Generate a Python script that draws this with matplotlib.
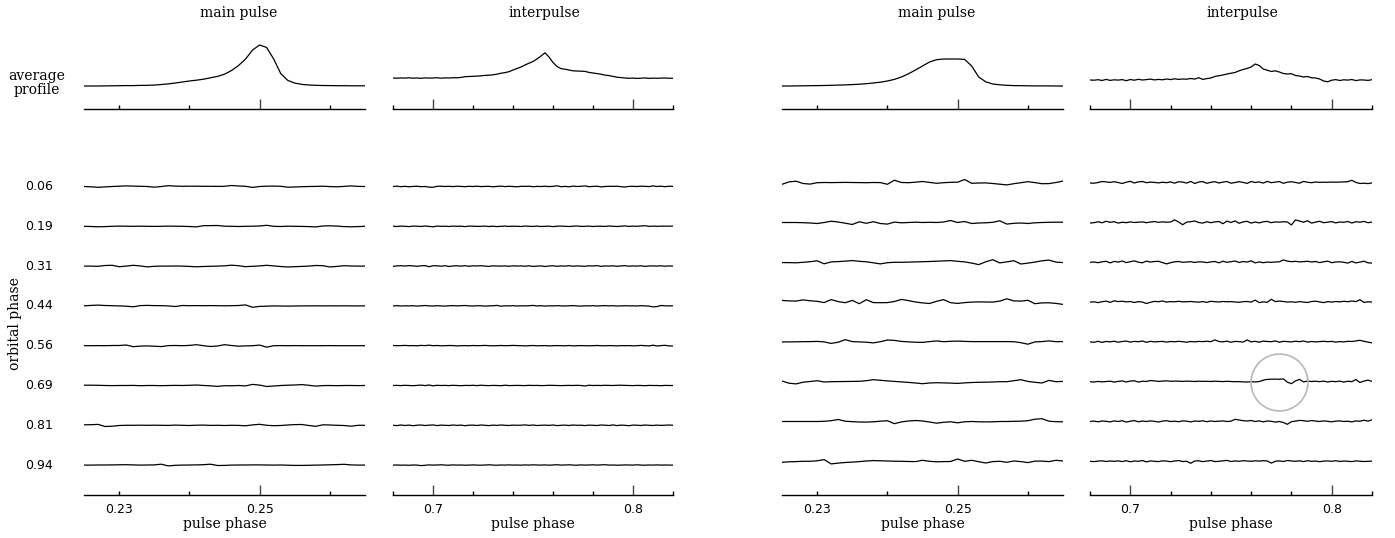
import numpy as np
import matplotlib.pyplot as plt
from matplotlib.transforms import blended_transform_factory

plt.rcParams['font.family'] = 'DejaVu Sans'
SERIF = 'DejaVu Serif'

# orbital phase of each residual row (top to bottom)
orbital_phase = ['0.06', '0.19', '0.31', '0.44', '0.56', '0.69', '0.81', '0.94']

# pulse phase range of the panels
main_range = (0.225, 0.265)   # bins of 0.001
inter_range = (0.68, 0.82)    # bins of 0.002

# average profiles (arbitrary intensity units)
avg_main_left = [0, 0, 0, 0.1, 0.2, 0.3, 0.4, 0.4, 0.6, 0.7, 0.9, 1.5, 2.1, 3.0, 4.0, 5.0,
                 5.8, 6.8, 8.2, 9.6, 11.8, 15.5, 20.5, 27.0, 36.0, 41.0, 38.5, 27.0, 12.5, 5.6,
                 2.9, 1.6, 1.0, 0.7, 0.5, 0.4, 0.3, 0.3, 0.2, 0.2, 0.2]
avg_main_right = [0, 0, 0.1, 0.2, 0.3, 0.4, 0.5, 0.7, 0.9, 1.1, 1.4, 1.8, 2.3, 3.0, 3.8, 5.0,
                  6.6, 9.0, 12.2, 16.0, 20.0, 24.0, 26.3, 27.0, 27.0, 27.0, 26.6, 20.0, 9.0, 4.2,
                  2.0, 1.2, 0.7, 0.4, 0.3, 0.2, 0.1, 0.1, 0.1, 0, 0]
avg_inter_left = [8.0, 7.8, 8.1, 7.9, 8.2, 7.8, 8.0, 7.7, 8.1, 7.9, 8.0, 8.3, 7.8, 8.1, 8.0,
                  8.3, 8.2, 8.6, 9.3, 9.5, 9.7, 9.9, 10.2, 10.6, 10.8, 11.2, 11.8, 12.8, 13.4,
                  14.3, 16.0, 17.5, 19.0, 21.0, 22.8, 24.5, 27.0, 30.0, 33.2, 29.0, 23.5, 19.5,
                  17.4, 16.8, 16.0, 15.2, 15.0, 14.8, 14.6, 13.6, 13.0, 12.4, 11.8, 10.9, 10.4,
                  9.6, 8.8, 8.4, 8.0, 7.7, 7.9, 7.6, 7.8, 8.1, 7.6, 7.9, 7.7, 7.9, 8.0, 7.7, 7.8]
avg_inter_right = [6.0, 5.8, 6.3, 5.5, 6.6, 5.6, 6.2, 5.9, 6.4, 5.3, 6.5, 5.8, 6.7, 6.0, 6.4,
                   6.9, 6.1, 6.6, 6.2, 7.0, 6.4, 7.2, 6.6, 7.0, 6.8, 7.5, 6.9, 8.3, 6.6, 7.4,
                   8.0, 9.5, 10.3, 11.0, 12.0, 12.8, 13.5, 15.2, 16.5, 17.6, 19.0, 22.0, 20.5,
                   17.0, 15.8, 14.5, 15.2, 14.0, 12.5, 12.0, 12.3, 10.5, 10.0, 9.0, 9.5, 8.2,
                   8.0, 7.0, 5.0, 4.2, 5.8, 6.4, 5.5, 6.2, 5.9, 6.5, 5.4, 6.1, 6.0, 5.6, 6.3]

# residuals after subtracting the average profile, one list per orbital phase
res_main_left = [
    [0, -0.3, -0.8, -0.4, 0, 0.3, 0.6, 0.4, 0.2, 0, -0.7, 0, 0.8, 0.4, 0.2, 0.3, 0.3, 0.2, 0.2, 0.1,
     0.2, 1.0, 0.5, 0.2, -0.9, 0, 0.3, 0.4, 0.2, -0.7, -0.5, -0.2, 0, 0.1, 0.3, -0.1, -0.3, 0.1, 0.6, 0.1, 0],
    [0, -0.2, -0.5, -0.3, 0, 0.2, 0.1, 0, 0.1, 0, -0.1, 0, 0.2, 0.1, 0, -0.2, -0.6, 0.6, 0.7, 0.8,
     0.1, 0, -0.2, 0, 0.1, 0.3, 1.0, 0, -0.2, 0.1, 0, -0.1, -0.3, -0.6, 0.3, 0.5, 0.2, -0.3, -0.5, -0.3, 0],
    [0, 0, -0.2, 0.6, 0.8, -0.6, 0, 0.8, 0.2, -0.8, -0.2, 0, 0, 0.1, 0, -0.3, -0.7, -0.4, -0.2, 0,
     0.3, 0.9, 0.4, -0.6, -0.2, 0.2, 0.8, 0.2, -0.4, -0.9, -0.6, -0.3, 0, 0.6, 0.4, -0.9, -0.3, 0.4, 0.1, 0, 0],
    [0, 0.5, 0.8, 0.4, 0.2, 0, -0.3, -0.9, 0.3, 0.5, 0.3, 0.2, 0, -0.6, 0.4, 0.2, 0.3, 0.2, 0.3, 0.2,
     0.1, 0.2, 0.4, 1.0, -1.4, -0.5, -0.3, 0, -0.1, -0.2, -0.1, 0, 0, 0.1, 0, 0.1, 0, 0.1, 0, 0, 0],
    [0, 0, 0.1, 0, 0.2, 0.2, 0.7, -1.0, -0.4, -0.2, -0.5, -0.9, 0.1, 0.2, 0, 0.3, 1.0, 0, -0.8, -0.3,
     1.0, 0.2, -0.5, -0.2, 0, 0.6, -1.5, 0, 0.1, 0, 0.1, 0, 0, 0, 0, 0.1, 0, 0, 0, 0, 0],
    [0.3, 0.3, 0.2, 0, -0.1, 0, 0, 0.1, -0.2, 0, 0, -0.2, 0, 0.1, 0, 0.2, 0.5, 0, -0.3, -0.9,
     -0.2, -0.3, 0, -0.4, 1.1, 0.4, -1.0, -0.5, 0, 0.3, 0.5, 0.9, 0.2, -0.6, -0.1, 0, -0.2, 0, 0, -0.1, 0],
    [0.5, 0.6, 0.9, -1.2, -0.9, -0.2, 0, 0, 0.1, 0, 0.1, 0, -0.1, 0.2, 0, -0.2, 0.1, 0.2, -0.1, 0,
     -0.2, 0, -0.1, -0.5, 0.4, 1.0, 0, -0.4, -0.2, 0.3, 0.7, 0.8, -0.2, -1.0, 0.5, 0.3, 0, -0.2, -0.9, 0, 0],
    [0, 0, 0.1, 0.1, 0.2, 0.3, 0.4, 0.2, 0, 0.1, 0.2, 0.9, -0.8, -0.2, 0, 0.1, 0.2, 0.4, 0.9, -0.4,
     -0.3, 0, 0.1, 0.1, 0.2, 0.2, 0.1, 0, 0.1, -0.1, -0.3, -0.3, -0.2, 0, 0.1, 0.3, 0.5, 0.8, 0.2, 0, 0],
]

res_main_right = [
    [-1.6, 0.8, 1.5, -0.8, -1.4, 0, 0.2, 0.1, 0.2, 0.3, 0.2, 0.1, 0, 0.2, 0.1, -1.6, 2.5, 0.2, 0, 0.5,
     1.2, 0.3, -0.6, 0, 0.4, 0.5, 3.2, -0.6, -0.3, -0.2, -0.8, -1.5, -2.2, -1.0, 0, 1.0, 0.1, -1.0, -0.9, 0.2, 1.6],
    [0, 0, 0, -0.2, -0.5, -1.0, 0, 1.3, 0.5, -0.7, -2.0, 0.7, -0.8, 0.8, -1.0, -1.6, 0.4, -0.3, 0, 0.3,
     0, 0.2, 0, 0.5, 2.0, 0, 1.0, -1.0, -0.5, -0.3, 0.2, 1.7, -1.6, -0.8, -0.5, -1.0, -0.3, 0, 0.2, 0.3, 0.3],
    [-0.3, -0.3, -0.5, 0, 0.6, 1.5, -1.5, 0.4, 0.7, 1.2, 1.7, 1.0, 0.5, -0.5, -1.6, -0.4, 0, 0, 0.2, 0.4,
     0.6, 0.8, 1.1, 1.4, 1.7, 1.0, 0.4, -0.8, -2.3, 0.5, 2.6, -0.6, 0.4, 1.6, -1.7, -0.8, 0.2, 1.5, 2.2, 0.2, -0.3],
    [1.7, 1.2, 1.0, 2.2, 1.3, 0.8, -0.5, 2.5, 0.5, -0.6, 1.7, -1.6, 2.4, -0.5, -0.6, -0.5, 0.6, 2.7, 1.5, 0.1,
     -0.8, -1.4, 0.8, 2.5, -0.6, -1.3, -0.5, 0, 0.2, 0.1, 0, 1.0, 3.3, 1.2, 1.0, 1.8, -1.6, -0.8, -0.7, -1.3, -2.3],
    [0, 0, 0.1, 0.2, 0.3, 0.5, 0, -1.5, -0.3, 2.2, 0.3, 0, -0.3, -1.0, 0.2, 1.9, 1.5, 0.5, 0, -0.3,
     -0.5, 0.3, 1.0, 0.2, 0.6, 0.8, 0.5, 0.3, 0.3, 0.3, 0.3, 0.3, 0.3, 0.2, -0.8, -2.3, 0, 0.3, 1.0, 0.2, 0.3],
    [0.7, -1.5, -2.2, -0.5, 0.2, 1.0, -0.3, 0, 0.1, 0.2, 0.3, 0.4, 1.0, 2.0, 1.4, 0.8, 0.3, -0.2, -0.7, -1.3,
     -2.0, -1.3, -1.0, -1.2, -1.4, -1.7, -1.2, -0.8, -0.6, -0.5, -0.3, 0, 0, 1.0, 2.0, 0.3, -0.6, -1.3, 1.3, 0, 0.3],
    [0, 0, 0, 0, 0, 0, 0.2, 0.8, 2.0, 0.3, -0.2, -0.5, -0.6, -0.3, 0.3, 0.8, -2.2, -0.4, 0.5, 1.0,
     0.5, -0.5, -1.7, -0.8, -0.3, -1.3, -0.3, 0, -0.3, -0.4, -0.3, 0, 0, 0.2, 0.3, 0.8, 2.3, 2.8, 0.3, -0.2, -0.3],
    [-1.0, -0.5, -0.3, 0, 0, 0.5, 1.7, -2.6, -1.8, -1.2, -0.8, -0.3, 0.3, 0.7, 0.5, 0.3, 0.1, 0, -0.2, -0.3,
     1.0, 0, -0.5, -0.3, -0.2, 2.3, 0, 1.0, -0.4, -1.7, -0.3, 0, -1.0, 0.3, -0.3, -1.3, 0.2, 0.2, -0.3, 1.0, 0.3],
]

res_inter_left = [
    [0.0, 0.3, -0.2, 0.2, -0.3, 0.1, 0.3, -0.2, 0.0, -0.6, -0.8, 0.2, 0.3, 0.0, 0.2, -0.1, 0.3, 0.1, -0.2, 0.2,
     0.0, 0.3, -0.1, 0.1, 0.2, -0.3, 0.1, 0.4, -0.1, 0.2, 0.0, -0.3, 0.2, 0.1, 0.3, -0.2, 0.1, 0.0, 0.3, -0.1,
     0.2, 0.7, -0.2, 0.1, -0.3, 0.4, 0.0, 0.2, 0.6, -0.2, 0.1, 0.3, -0.4, 0.0, 0.2, 0.1, 0.3, -0.2, -0.5, 0.1,
     0.2, 0.0, 0.3, 0.2, -0.1, 0.6, 0.0, 0.3, -0.2, 0.3, 0.1],
    [0.1, -0.2, 0.2, 0.0, -0.3, 0.2, 0.1, -0.2, 0.3, -0.1, -0.5, 0.2, 0.0, 0.1, -0.2, 0.2, 0.0, 0.1, -0.3, 0.2,
     0.1, -0.1, 0.0, 0.2, -0.2, 0.1, -0.3, 0.0, 0.2, -0.1, 0.1, 0.0, -0.2, 0.3, 0.0, -0.1, 0.2, -0.2, 0.0, 0.1,
     -0.3, 0.1, 0.2, 0.0, -0.2, 0.1, 0.3, -0.1, 0.0, 0.2, -0.2, 0.1, 0.0, -0.1, 0.3, 0.0, -0.2, 0.1, 0.4, -0.1,
     0.2, 0.0, 0.3, 0.6, -0.1, 0.2, 0.0, 0.1, 0.2, 0.1, 0.2],
    [-0.3, 0.2, 0.4, 0.1, 0.5, 0.2, -0.2, 0.3, 0.5, -0.6, 0.4, 0.3, -0.1, 0.4, -0.4, 0.2, 0.3, 0.0, 0.4, -0.2,
     0.3, 0.1, 0.4, 0.0, -0.3, 0.3, 0.1, 0.0, 0.2, -0.2, 0.3, 0.0, 0.2, -0.1, 0.3, -0.3, 0.0, 0.2, -0.4, 0.1,
     0.3, -0.2, 0.2, 0.0, 0.4, -0.1, 0.2, 0.0, -0.2, 0.3, 0.1, 0.5, -0.3, 0.2, 0.0, 0.3, -0.2, 0.2, 0.4, -0.1,
     0.2, 0.0, 0.3, -0.3, 0.1, 0.2, 0.0, 0.3, -0.1, 0.2, 0.0],
    [0.0, 0.2, -0.1, 0.1, 0.0, 0.2, -0.2, 0.1, 0.4, 0.0, -0.1, 0.2, 0.0, -0.2, 0.1, 0.3, 0.0, 0.2, 0.4, 0.0,
     -0.1, 0.2, 0.1, -0.2, 0.0, 0.1, 0.5, -0.3, 0.1, 0.0, 0.2, -0.1, 0.1, 0.0, 0.2, 0.5, -0.1, 0.2, -0.2, 0.1,
     0.0, 0.2, 0.0, -0.1, 0.1, 0.3, 0.0, -0.2, 0.1, 0.0, 0.2, -0.1, 0.1, 0.3, 0.0, 0.2, -0.1, 0.0, 0.2, 0.0,
     0.1, -0.1, 0.2, 0.0, -0.2, -1.0, -0.7, 0.4, 0.1, 0.0, 0.1],
    [0.2, 0.0, 0.1, 0.3, 0.0, 0.1, -0.1, 0.3, 0.1, 0.5, 0.0, 0.2, -0.1, 0.0, 0.2, 0.1, -0.2, 0.0, 0.1, -0.1,
     0.2, 0.0, 0.1, 0.3, 0.0, -0.1, 0.0, 0.2, 0.0, 0.1, 0.3, 0.1, 0.0, -0.2, 0.0, 0.2, -0.1, 0.0, 0.1, -0.2,
     0.0, 0.1, 0.0, -0.1, 0.2, -0.2, 0.0, 0.1, 0.0, -0.1, 0.0, 0.2, 0.0, -0.1, 0.1, 0.0, -0.2, 0.1, 0.0, 0.1,
     -0.2, 0.0, 0.3, 0.0, -0.2, 0.5, -0.3, 0.1, 0.4, -0.2, -0.3],
    [0.0, 0.1, -0.1, 0.2, 0.0, -0.2, 0.1, 0.4, -0.1, 0.5, -0.3, 0.2, 0.0, 0.1, -0.1, 0.2, 0.0, -0.2, 0.1, 0.0,
     0.2, -0.1, 0.3, 0.0, -0.1, 0.1, 0.0, -0.2, 0.3, -0.1, 0.0, 0.1, 0.0, -0.1, 0.2, 0.0, 0.1, -0.1, 0.0, 0.2,
     0.1, 0.0, -0.1, 0.0, 0.1, 0.0, 0.2, 0.0, -0.5, 0.3, 0.0, 0.1, 0.0, 0.2, 0.1, 0.0, 0.2, 0.3, 0.1, 0.0,
     -0.1, 0.1, 0.0, -0.2, 0.1, 0.0, 0.0, -0.2, 0.1, 0.0, 0.0],
    [0.0, -0.3, 0.3, -0.2, 0.2, -0.4, 0.1, 0.3, -0.2, 0.1, 0.4, -0.3, 0.2, 0.0, -0.2, 0.3, -0.1, 0.2, -0.4, 0.1,
     0.2, -0.2, 0.3, 0.0, -0.3, 0.2, -0.1, 0.3, 0.0, -0.2, 0.2, 0.0, 0.1, 0.4, -0.1, 0.3, -0.2, 0.0, 0.2, -0.1,
     0.3, -0.3, 0.0, 0.2, -0.2, 0.3, 0.0, 0.1, -0.3, 0.2, 0.0, -0.2, 0.3, 0.1, -0.2, 0.4, -0.3, 0.2, 0.0, -0.4,
     0.2, 0.1, -0.2, 0.3, 0.0, -0.2, 0.2, -0.1, 0.1, 0.3, 0.0],
    [0.0, 0.1, -0.1, 0.0, -0.2, 0.1, 0.0, -0.5, -0.2, 0.2, 0.0, 0.1, 0.3, 0.0, -0.1, 0.2, 0.0, 0.1, -0.1, 0.0,
     0.2, 0.0, -0.1, 0.1, 0.3, 0.0, -0.1, 0.1, 0.0, 0.2, 0.0, 0.1, -0.1, 0.2, 0.0, 0.3, 0.1, 0.0, 0.2, -0.1,
     0.1, 0.4, 0.0, 0.1, 0.3, 0.0, -0.1, 0.2, 0.0, 0.1, 0.3, 0.0, 0.2, 0.4, 0.0, 0.1, -0.1, 0.0, 0.2, 0.1,
     0.0, 0.3, 0.0, -0.1, 0.1, 0.0, 0.2, 0.0, 0.1, 0.0, 0.0],
]

res_inter_right = [
    [-0.3, -0.5, 0.2, 1.2, 0.8, 0.3, 1.0, 0.2, -0.8, 0.5, 1.4, -0.3, 0.8, 1.2, 0.0, 0.6, 0.3, -0.2, 0.5, 0.0,
     0.8, -0.5, 1.0, 0.6, -0.4, 1.3, -0.8, 0.7, 1.1, -0.6, 0.4, 1.0, -0.3, 0.6, 1.2, -0.5, 0.2, 1.0, 0.3, -0.7,
     1.2, 0.2, 0.8, -0.4, 1.3, 0.0, 0.6, 1.1, -0.6, 0.5, 1.0, 0.2, -0.5, 1.3, 0.4, 0.0, 0.7, 0.3, 0.5, 0.4,
     0.6, 0.5, 0.6, 0.8, 1.0, 2.4, 0.3, -0.8, -0.5, -0.9, -0.2],
    [-0.5, -0.2, 0.8, -0.3, 1.2, 0.2, 0.8, -0.6, 0.3, -0.2, 0.6, 0.0, 0.3, 0.6, -0.2, 0.5, 0.9, 0.2, 0.6, 0.3,
     0.5, 2.6, 0.5, -2.2, 0.4, 0.8, 1.5, 0.0, -0.6, 0.8, -0.2, 0.6, 1.0, -1.2, 1.4, 0.0, 1.6, -0.8, 0.6, 1.2,
     -0.6, 0.5, -0.4, 0.7, 1.1, -0.2, 0.6, 0.3, 0.8, 0.5, -2.5, 2.6, 1.5, 0.2, 1.8, -0.6, 0.4, 1.2, -0.2, 0.3,
     0.9, -0.4, 0.5, 0.2, 1.0, -0.5, 0.8, 0.3, 1.1, -0.2, 0.4],
    [0.0, 0.3, -0.4, 0.5, 1.0, -0.6, 0.9, 0.2, 1.3, -0.3, 0.6, 1.4, 0.1, -0.5, 1.2, 0.2, 0.8, 1.0, -0.3, -1.6,
     -0.4, 0.5, 0.8, 0.0, 0.3, 0.6, -0.2, 0.5, 0.3, -0.3, 0.4, 0.8, -0.5, 1.1, 0.0, 0.6, 1.3, -0.2, 0.8, 0.2,
     1.5, -0.6, 0.4, -0.4, 0.2, 0.0, 0.3, 0.5, 2.4, 1.2, 0.6, 1.0, 0.4, 0.7, 1.0, 0.3, 0.8, -0.3, 0.5, 1.2,
     -0.4, 0.3, 0.5, 0.0, -0.8, 0.9, -0.6, 0.2, 1.1, -0.5, -0.8],
    [0.0, 0.3, -0.5, 0.4, 1.0, -0.3, 1.3, 0.5, 0.9, 0.2, 0.6, -0.4, 0.5, 0.0, -1.4, -0.2, 0.7, 0.4, 1.1, 0.0,
     0.5, 0.3, 0.8, 0.2, 0.4, 0.6, 0.2, 0.0, 0.5, -0.3, 0.8, 0.4, 0.1, 0.6, 0.3, 0.5, 0.1, -0.2, 0.4, 0.6,
     0.0, 2.0, -0.5, 0.3, -0.2, 2.8, 0.5, 1.0, 0.6, 0.0, 0.3, -0.2, 0.5, 0.0, -0.4, 0.6, 0.9, 0.2, -0.5, 0.5,
     0.0, 0.6, 0.2, 0.8, 0.4, 1.1, 0.5, 2.4, -0.3, 0.3, 0.0],
    [0.0, -0.4, 0.6, -0.5, 0.5, 0.0, 0.7, -0.3, 0.4, 0.8, -0.2, 0.5, 0.2, 0.9, -0.4, 0.6, 0.0, 0.3, 0.5, -0.2,
     0.4, 0.1, 0.6, 0.2, -0.3, 0.4, 0.0, 0.5, 0.3, 0.7, 0.2, 2.0, 0.4, 0.0, 0.8, -0.4, 0.5, 0.3, -0.2, 2.0,
     0.0, 0.6, -0.3, 0.8, 0.4, 0.2, 1.0, -0.4, 0.6, 0.3, 0.0, 0.7, 0.2, 0.9, -0.2, 0.4, 0.0, 0.3, 0.6, 0.2,
     0.5, -0.2, 0.3, 0.0, 0.6, 0.4, 1.0, 1.6, 0.6, -0.2, -0.9],
    [0.0, -0.3, 0.3, -0.2, 0.2, 0.5, -0.4, 0.3, 0.8, -0.3, 0.6, 1.0, -0.4, 0.5, 0.2, 1.2, 0.8, 0.3, 0.6, 0.9,
     0.4, 0.6, 0.5, 0.3, 0.6, 0.4, 0.2, 0.5, 0.3, 0.4, 0.2, 0.5, 0.3, 0.1, 0.4, 0.2, 0.0, 0.1, -0.2, -0.3,
     0.0, -0.2, 0.1, 1.5, 2.3, 2.5, 2.6, 2.4, 2.8, -0.5, -2.0, 0.8, 2.3, -0.2, 0.6, 0.2, 0.5, 0.0, 0.6, -0.3,
     0.4, 0.0, 0.6, -0.4, 0.5, 0.0, 2.2, -0.8, 0.6, 1.6, 0.3],
    [0.0, 0.4, -0.3, 0.5, 0.2, -0.4, 0.6, 0.0, 0.8, -0.6, 0.3, 0.9, -0.3, 0.5, 0.0, 0.6, 0.2, -0.5, 0.4, 0.8,
     0.0, 0.3, -0.2, 0.6, 0.4, -0.4, 0.5, 0.2, 0.7, -0.2, 0.5, 0.0, 0.3, 0.6, 0.0, 0.3, 2.2, 1.5, 0.8, 0.5,
     1.0, 0.0, 0.6, -0.4, 0.5, 0.2, -0.6, 0.0, -1.0, -2.8, -0.2, 0.4, 1.1, 0.8, 0.2, 1.0, 0.4, 0.0, 0.6, 0.2,
     -0.3, 0.4, 0.6, 0.0, 0.3, -0.4, 0.6, 0.2, 1.3, 0.4, 1.6],
    [0.0, -0.3, 0.2, 0.5, -0.2, 0.3, 0.0, 0.4, -0.3, 0.6, -0.5, 0.3, 0.0, 0.8, -0.6, 0.4, 0.0, -0.3, 0.5, 0.2,
     -0.4, 0.3, 0.7, -0.2, 0.0, -2.0, 0.3, 0.5, -0.3, 0.2, 0.8, -0.3, 0.0, 0.5, 0.9, -0.2, 0.4, 0.0, 0.6, 0.3,
     0.0, 0.5, 0.2, 0.6, 0.3, -1.8, 0.0, 0.4, -0.2, 0.8, 0.3, 0.0, 0.5, -0.3, 0.6, 0.0, 0.3, -0.4, 0.2, 0.4,
     0.0, 0.6, -0.2, 0.3, 0.0, -0.3, 0.4, 0.1, -0.2, 0.0, 0.1],
]

# highlighted feature: right interpulse, orbital phase 0.69
circle_phase = 0.774
circle_row = 5

# ---- layout (pixels of the 1395x538 output) ----
W, H = 1395, 538
fig = plt.figure(figsize=(W / 100, H / 100), dpi=100)


def box(x0, x1, ytop, ybot):
    return [x0 / W, 1 - ybot / H, (x1 - x0) / W, (ybot - ytop) / H]


row_step = 39.8
panels = [
    # x0, x1, range, avg, residuals, kind, first row height
    (84, 365, main_range, avg_main_left, res_main_left, 'main', 308.0),
    (393, 673, inter_range, avg_inter_left, res_inter_left, 'inter', 308.0),
    (782, 1063, main_range, avg_main_right, res_main_right, 'main', 311.8),
    (1090, 1372, inter_range, avg_inter_right, res_inter_right, 'inter', 311.8),
]


def style_axis(ax, kind, labels):
    for s in ['top', 'left', 'right']:
        ax.spines[s].set_visible(False)
    ax.spines['bottom'].set_linewidth(1.0)
    ax.set_yticks([])
    if kind == 'main':
        ax.set_xticks([0.25], labels=['0.25'] if labels else [''])
        ax.set_xticks([0.23, 0.24, 0.26], labels=['0.23', '', ''] if labels else ['', '', ''], minor=True)
    else:
        ax.set_xticks([0.7, 0.8], labels=['0.7', '0.8'] if labels else ['', ''])
        ax.set_xticks([0.68, 0.72, 0.74, 0.76, 0.78, 0.82], labels=[''] * 6, minor=True)
    ax.tick_params(which='major', direction='in', length=7, width=1.0, color='#444444')
    ax.tick_params(which='minor', direction='in', length=3, width=1.0, color='black')
    ax.tick_params(which='both', labelsize=9, pad=6, top=False)
    ax.patch.set_visible(False)


for x0, x1, rng, avg, res, kind, row0 in panels:
    # average profile
    ax_top = fig.add_axes(box(x0, x1, 35, 109))
    ph = np.linspace(rng[0], rng[1], len(avg))
    ax_top.plot(ph, avg, color='black', lw=0.9)
    ax_top.set_xlim(*rng)
    ax_top.set_ylim(-23, 51)
    style_axis(ax_top, kind, labels=False)
    ax_top.text(0.55 if kind == 'main' else 0.54, (109 - 13) / 74.0,
                'main pulse' if kind == 'main' else 'interpulse',
                transform=ax_top.transAxes, ha='center', va='center',
                family=SERIF, fontsize=10)

    # residuals per orbital phase
    ax = fig.add_axes(box(x0, x1, 160, 494.5))
    for i, r in enumerate(res):
        ph = np.linspace(rng[0], rng[1], len(r))
        ax.plot(ph, np.array(r) + row0 - i * row_step, color='black', lw=0.9)
    ax.set_xlim(*rng)
    ax.set_ylim(0, 334.5)
    style_axis(ax, kind, labels=True)
    ax.set_xlabel('pulse phase', family=SERIF, fontsize=10, labelpad=1)

    if x0 == 84:
        tr = blended_transform_factory(fig.transFigure, ax.transData)
        for i, lab in enumerate(orbital_phase):
            ax.text(39.5 / W, row0 - i * row_step, lab, transform=tr,
                    ha='center', va='center', fontsize=9)
    if x0 == 1090:
        ax.plot([circle_phase], [row0 - circle_row * row_step], 'o', ms=41,
                mfc='none', mec='#b8b8b8', mew=1.2)

fig.text(37 / W, 1 - 83 / H, 'average\nprofile', ha='center', va='center',
         family=SERIF, fontsize=10, linespacing=1.0)
fig.text(15 / W, 1 - 324 / H, 'orbital phase', ha='center', va='center',
         rotation=90, family=SERIF, fontsize=10)

fig.savefig('out.png', dpi=100)
